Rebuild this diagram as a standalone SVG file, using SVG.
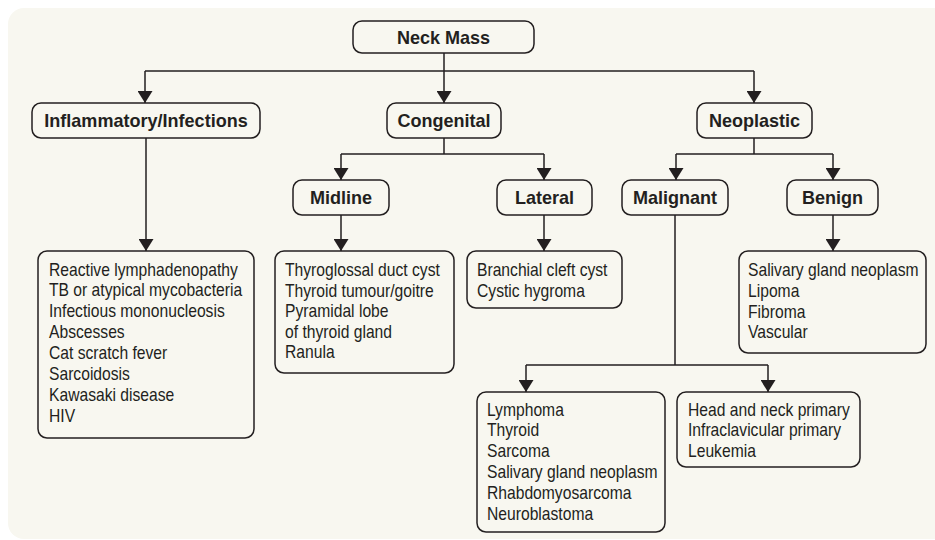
<svg xmlns="http://www.w3.org/2000/svg" width="935" height="540" viewBox="0 0 935 540">
<defs>
<marker id="ah" viewBox="0 0 12 15" refX="12" refY="7.5" markerWidth="12" markerHeight="15" markerUnits="userSpaceOnUse" orient="auto">
<path d="M0,0 L12,7.5 L0,15 z" fill="#231f20"/>
</marker>
<style>
.box{fill:none;stroke:#231f20;stroke-width:1.5}
.lbl{font-family:"Liberation Sans",Arial,sans-serif;font-weight:bold;font-size:19px;fill:#231f20;text-anchor:middle}
.lst{font-family:"Liberation Sans",Arial,sans-serif;font-size:17.5px;fill:#231f20}
.con{fill:none;stroke:#231f20;stroke-width:1.5}
.arr{marker-end:url(#ah)}
</style>
</defs>
<rect x="0" y="0" width="935" height="540" fill="#ffffff"/>
<rect x="8" y="8" width="960" height="531" rx="16" fill="#f8f7f0"/>
<g id="connectors">
<path class="con arr" d="M444,53 V103"/>
<path class="con" d="M145,71 H754"/>
<path class="con arr" d="M145,71 V103"/>
<path class="con arr" d="M754,71 V103"/>
<path class="con arr" d="M146,138 V251"/>
<path class="con" d="M444,138 V154 M341,154 H544"/>
<path class="con arr" d="M341,154 V180"/>
<path class="con arr" d="M544,154 V180"/>
<path class="con" d="M754,138 V154 M676,154 H833"/>
<path class="con arr" d="M676,154 V180"/>
<path class="con arr" d="M833,154 V180"/>
<path class="con arr" d="M341,215 V251"/>
<path class="con arr" d="M544,215 V251"/>
<path class="con arr" d="M833,215 V251"/>
<path class="con" d="M675,215 V365 M526,365 H768"/>
<path class="con arr" d="M526,365 V392"/>
<path class="con arr" d="M768,365 V392"/>
</g>
<g id="neck-mass">
<rect class="box" x="353" y="21" width="181" height="32" rx="9"/>
<text class="lbl" transform="translate(443.5,44) scale(0.95,1)" x="0" y="0">Neck Mass</text>
</g>
<g id="inflammatory">
<rect class="box" x="32" y="103" width="228" height="35" rx="9"/>
<text class="lbl" transform="translate(146,127) scale(0.95,1)" x="0" y="0">Inflammatory/Infections</text>
</g>
<g id="congenital">
<rect class="box" x="387" y="103" width="114" height="35" rx="9"/>
<text class="lbl" transform="translate(444,127) scale(0.95,1)" x="0" y="0">Congenital</text>
</g>
<g id="neoplastic">
<rect class="box" x="697" y="103" width="115" height="35" rx="9"/>
<text class="lbl" transform="translate(754.5,127) scale(0.95,1)" x="0" y="0">Neoplastic</text>
</g>
<g id="midline">
<rect class="box" x="293" y="180" width="96" height="35" rx="9"/>
<text class="lbl" transform="translate(341,204) scale(0.95,1)" x="0" y="0">Midline</text>
</g>
<g id="lateral">
<rect class="box" x="497" y="180" width="95" height="35" rx="9"/>
<text class="lbl" transform="translate(544.5,204) scale(0.95,1)" x="0" y="0">Lateral</text>
</g>
<g id="malignant">
<rect class="box" x="622" y="180" width="106" height="35" rx="9"/>
<text class="lbl" transform="translate(675,204) scale(0.95,1)" x="0" y="0">Malignant</text>
</g>
<g id="benign">
<rect class="box" x="787" y="180" width="91" height="35" rx="9"/>
<text class="lbl" transform="translate(832.5,204) scale(0.95,1)" x="0" y="0">Benign</text>
</g>
<g id="inflammatory-list">
<rect class="box" x="38" y="251" width="216" height="187" rx="9"/>
<text class="lst" transform="translate(49,275.5) scale(0.895,1)"><tspan x="0" y="0">Reactive lymphadenopathy</tspan><tspan x="0" dy="21">TB or atypical mycobacteria</tspan><tspan x="0" dy="21">Infectious mononucleosis</tspan><tspan x="0" dy="21">Abscesses</tspan><tspan x="0" dy="21">Cat scratch fever</tspan><tspan x="0" dy="21">Sarcoidosis</tspan><tspan x="0" dy="21">Kawasaki disease</tspan><tspan x="0" dy="21">HIV</tspan></text>
</g>
<g id="midline-list">
<rect class="box" x="275" y="251" width="179" height="122" rx="9"/>
<text class="lst" transform="translate(285,276) scale(0.895,1)"><tspan x="0" y="0">Thyroglossal duct cyst</tspan><tspan x="0" dy="20.6">Thyroid tumour/goitre</tspan><tspan x="0" dy="20.6">Pyramidal lobe</tspan><tspan x="0" dy="20.6">of thyroid gland</tspan><tspan x="0" dy="20.6">Ranula</tspan></text>
</g>
<g id="lateral-list">
<rect class="box" x="467" y="251" width="155" height="57" rx="9"/>
<text class="lst" transform="translate(477,276) scale(0.895,1)"><tspan x="0" y="0">Branchial cleft cyst</tspan><tspan x="0" dy="20.6">Cystic hygroma</tspan></text>
</g>
<g id="benign-list">
<rect class="box" x="739" y="251" width="187" height="102" rx="9"/>
<text class="lst" transform="translate(748,276) scale(0.895,1)"><tspan x="0" y="0">Salivary gland neoplasm</tspan><tspan x="0" dy="20.8">Lipoma</tspan><tspan x="0" dy="20.8">Fibroma</tspan><tspan x="0" dy="20.8">Vascular</tspan></text>
</g>
<g id="malignant-list-1">
<rect class="box" x="477" y="392" width="188" height="140" rx="9"/>
<text class="lst" transform="translate(487,415.5) scale(0.895,1)"><tspan x="0" y="0">Lymphoma</tspan><tspan x="0" dy="21">Thyroid</tspan><tspan x="0" dy="21">Sarcoma</tspan><tspan x="0" dy="21">Salivary gland neoplasm</tspan><tspan x="0" dy="21">Rhabdomyosarcoma</tspan><tspan x="0" dy="21">Neuroblastoma</tspan></text>
</g>
<g id="malignant-list-2">
<rect class="box" x="677" y="392" width="183" height="75" rx="9"/>
<text class="lst" transform="translate(688,415.5) scale(0.895,1)"><tspan x="0" y="0">Head and neck primary</tspan><tspan x="0" dy="21">Infraclavicular primary</tspan><tspan x="0" dy="21">Leukemia</tspan></text>
</g>
</svg>
